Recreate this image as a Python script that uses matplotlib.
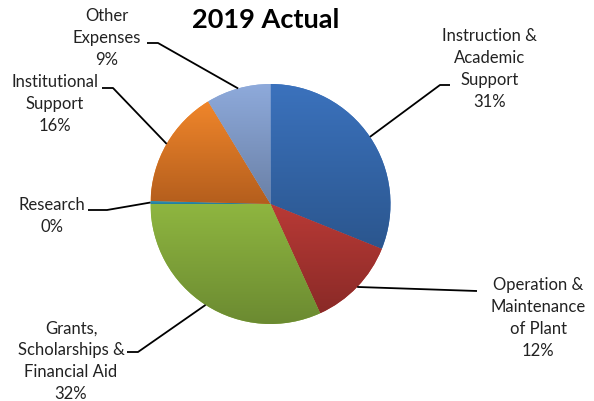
import numpy as np
import matplotlib
matplotlib.use("Agg")
import matplotlib.pyplot as plt
from matplotlib.colors import LinearSegmentedColormap

categories = ["Instruction &\nAcademic\nSupport", "Operation &\nMaintenance\nof Plant",
              "Grants,\nScholarships &\nFinancial Aid", "Research",
              "Institutional\nSupport", "Other\nExpenses"]
values = [31.1, 12.1, 31.8, 0.4, 15.9, 8.7]
pct_labels = ["31%", "12%", "32%", "0%", "16%", "9%"]
title = "2019 Actual"

top_colors = ["#3b72bd", "#b93a36", "#8fb640", "#2f9dc2", "#f0862b", "#8eaadb"]
bot_colors = ["#2b568e", "#8a2a27", "#6b8a31", "#247c9a", "#b45e1d", "#6a80a6"]

W, H = 594, 401
fig = plt.figure(figsize=(W / 100, H / 100), dpi=100)
ax = fig.add_axes([0, 0, 1, 1])

def Y(y):
    return H - y

cx, cy, R = 270.5, Y(204), 120
wedges, _ = ax.pie(values, startangle=90, counterclock=False, center=(cx, cy), radius=R,
                   colors=top_colors, wedgeprops=dict(linewidth=0))

for w, c1, c2 in zip(wedges, top_colors, bot_colors):
    v = w.get_path().vertices
    x0, x1 = v[:, 0].min(), v[:, 0].max()
    y0, y1 = v[:, 1].min(), v[:, 1].max()
    cmap = LinearSegmentedColormap.from_list("g", [c2, c1])
    grad = np.linspace(0, 1, 256).reshape(-1, 1)
    im = ax.imshow(grad, cmap=cmap, extent=(x0, x1, y0, y1), origin="lower",
                   aspect="auto", zorder=2, interpolation="bilinear")
    im.set_clip_path(w)

# label layout: text center x, text center y, elbow x, elbow y, end x (text side)
layout = [
    (490, 69, 440, 85, 450),
    (538, 318, 477, 291, 477),
    (71, 361, 138, 352, 127),
    (52, 216, 107, 210, 88),
    (55, 104, 113, 88, 102),
    (107, 38, 158, 43, 147),
]

cum = np.concatenate([[0], np.cumsum(values)]) / sum(values)
for i, (cat, pct) in enumerate(zip(categories, pct_labels)):
    mid = (cum[i] + cum[i + 1]) / 2 * 2 * np.pi
    px = cx + R * np.sin(mid)
    py = cy + R * np.cos(mid)
    tx, ty, ex, ey, endx = layout[i]
    ax.plot([px, ex, endx], [py, Y(ey), Y(ey)], color="black", lw=1.3, zorder=3,
            solid_capstyle="butt")
    ax.text(tx, Y(ty), cat + "\n" + pct, ha="center", va="center", fontsize=12,
            family="Lato", linespacing=1.45, color="#222222")

ax.text(266, Y(20), title, ha="center", va="center", fontsize=19.5, fontweight="bold",
        family="Lato", color="black")

ax.set_xlim(0, W)
ax.set_ylim(0, H)
ax.set_aspect("auto")
ax.axis("off")
fig.savefig("out.png", dpi=100)
